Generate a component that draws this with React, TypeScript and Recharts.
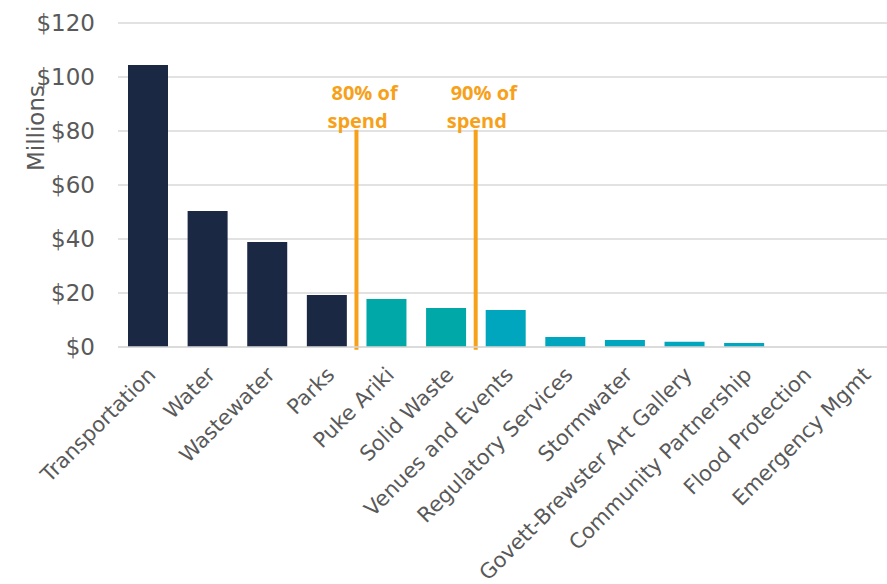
import {
  Bar,
  BarChart,
  CartesianGrid,
  Cell,
  ReferenceLine,
  XAxis,
  YAxis,
} from "recharts";

const categories = [
  "Transportation",
  "Water",
  "Wastewater",
  "Parks",
  "Puke Ariki",
  "Solid Waste",
  "Venues and Events",
  "Regulatory Services",
  "Stormwater",
  "Govett-Brewster Art Gallery",
  "Community Partnership",
  "Flood Protection",
  "Emergency Mgmt",
];
const spend = [104.4, 50.4, 38.9, 19.3, 17.8, 14.4, 13.7, 3.7, 2.6, 1.9, 1.5, 0, 0];
const yTicks = [0, 20, 40, 60, 80, 100, 120];
// which band each bar belongs to
const band = [0, 0, 0, 0, 1, 1, 2, 2, 2, 2, 2, 2, 2];
const bandColors = ["#1B2844", "#00A9A8", "#00A6BD"];
// cut-off lines sit at the start of these categories
const cutoffs = [
  { before: "Puke Ariki", top: 80.5, label: "80% of" },
  { before: "Venues and Events", top: 80.5, label: "90% of" },
];

const data = categories.map((name, i) => ({ name, value: spend[i], band: band[i] }));

const GREY = "#595959";
const ORANGE = "#F7A11A";
const FONT = "'DejaVu Sans', Verdana, sans-serif";

function XTick({ x, y, payload }: any) {
  const ax = x + 9;
  const ay = y + 27;
  return (
    <text
      x={ax}
      y={ay}
      transform={`rotate(-45 ${ax} ${ay})`}
      textAnchor="end"
      fill={GREY}
      fontSize={21}
      fontFamily={FONT}
    >
      {payload.value}
    </text>
  );
}

function CutoffLabel({ viewBox, text }: any) {
  const x = viewBox?.x ?? 0;
  const y = viewBox?.y ?? 0;
  return (
    <g fill={ORANGE} fontSize={20} fontWeight={700} fontFamily="'Open Sans', sans-serif">
      <text x={x - 25} y={y - 30}>{text}</text>
      <text x={x - 29} y={y - 2}>spend</text>
    </g>
  );
}

function MillionsLabel() {
  return (
    <text
      x={44}
      y={128}
      transform="rotate(-90 44 128)"
      textAnchor="middle"
      fill={GREY}
      fontSize={23}
      fontFamily={FONT}
    >
      Millions
    </text>
  );
}

export default function App() {
  return (
    <div style={{ position: "absolute", left: 0, top: 0, width: 887, height: 584, overflow: "hidden", background: "#fff" }}>
      <BarChart
        width={893}
        height={584}
        data={data}
        margin={{ top: 23, right: 0, bottom: 0, left: 0 }}
      >
        <CartesianGrid vertical={false} stroke="#D9D9D9" strokeWidth={1.5} />
        <XAxis
          dataKey="name"
          interval={0}
          height={237}
          tickLine={false}
          tickSize={0}
          axisLine={{ stroke: "#D9D9D9", strokeWidth: 1.5 }}
          tick={<XTick />}
        />
        <YAxis
          width={118}
          domain={[0, 120]}
          ticks={yTicks}
          axisLine={false}
          tickLine={false}
          tickSize={0}
          tickMargin={23}
          tickFormatter={(v) => `$${v}`}
          tick={{ fill: GREY, fontSize: 23, fontFamily: FONT }}
          label={<MillionsLabel />}
        />
        <Bar dataKey="value" barSize={40} isAnimationActive={false}>
          {data.map((d, i) => (
            <Cell key={i} fill={bandColors[d.band]} />
          ))}
        </Bar>
        {cutoffs.map((c) => (
          <ReferenceLine
            key={c.before}
            position="start"
            segment={[
              { x: c.before, y: -1 },
              { x: c.before, y: c.top },
            ]}
            stroke={ORANGE}
            strokeWidth={4}
            ifOverflow="visible"
            label={<CutoffLabel text={c.label} />}
          />
        ))}
      </BarChart>
    </div>
  );
}
